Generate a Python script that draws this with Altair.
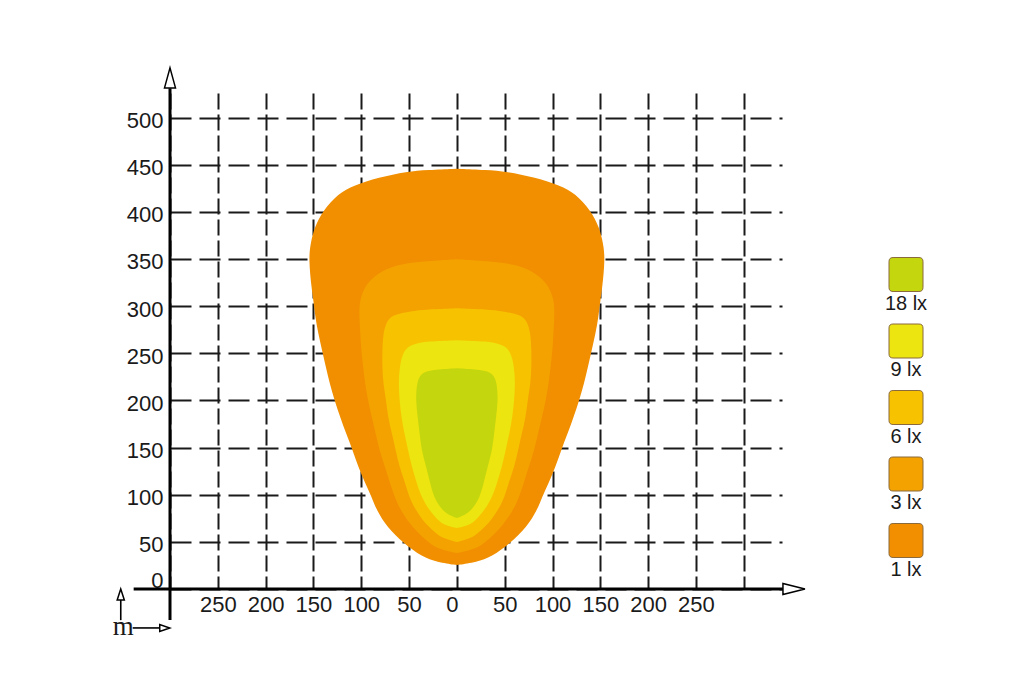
import altair as alt
import pandas as pd

# isolux curves: height (m) and half width (m) of each lit zone
LEVELS = ["18 lx", "9 lx", "6 lx", "3 lx", "1 lx"]
COLORS = ["#c4d60e", "#ece50f", "#f7c300", "#f4a200", "#f18f00"]

ONE_Y = [25.4, 28.6, 33.9, 48.7, 65.7, 83.7, 97.5, 112.3, 129.2, 147.2, 165.3, 182.2, 200.2, 218.2, 235.2,
         253.2, 271.2, 288.1, 306.1, 318.9, 350.6, 366.5, 383.5, 401.5, 419.5, 428.0, 436.4, 442.8, 444.4, 445.7]
ONE_W = [0, 21, 36, 56, 73, 84, 89, 96, 103, 109, 116, 122, 128, 133, 137,
         141, 145, 148, 150, 152, 155, 153, 149, 140, 124, 108, 82, 52, 31, 0]

THREE_Y = [38.1, 42.4, 48.7, 65.7, 83.7, 97.5, 112.3, 129.2, 147.2, 165.3, 182.2, 200.2, 218.2, 235.2,
           253.2, 271.2, 288.1, 306.1, 324.1, 337.9, 345.3, 348.0, 349.6]
THREE_W = [0, 19, 29, 47, 59, 65, 70, 75, 81, 85, 89, 93, 96, 98, 100, 101, 102, 102, 95, 79, 58, 26, 0]

SIX_Y = [49.8, 54.0, 58.3, 65.7, 73.1, 83.7, 97.5, 112.3, 129.2, 147.2, 165.3, 182.2, 200.2, 218.2,
         235.2, 253.2, 271.2, 281.8, 288.1, 291.3, 294.5, 296.6, 297.7]
SIX_W = [0, 15, 21, 29, 36, 43, 50, 54, 60, 64, 68, 72, 74, 77, 78, 78, 77, 74, 70, 63, 49, 31, 0]

NINE_Y = [64.6, 67.8, 73.1, 83.7, 97.5, 112.3, 129.2, 147.2, 165.3, 182.2, 200.2, 218.2, 235.2, 253.2,
          259.5, 262.7, 263.8]
NINE_W = [0, 13, 20, 29, 37, 42, 47, 51, 55, 58, 60, 61, 60, 56, 47, 31, 0]

EIGHTEEN_Y = [75.2, 78.4, 82.6, 89.0, 97.5, 112.3, 129.2, 147.2, 165.3, 182.2, 200.2, 218.2, 228.8,
              232.5, 234.1]
EIGHTEEN_W = [0, 8, 14, 19, 24, 28, 32, 37, 39, 41, 43, 42, 38, 26, 0]

X_TICKS = [-300, -250, -200, -150, -100, -50, 0, 50, 100, 150, 200, 250, 300]
Y_TICKS = [0, 50, 100, 150, 200, 250, 300, 350, 400, 450, 500]

FONT = "Liberation Sans"
INK = "#1a1a1a"

xs = alt.Scale(domain=[-300, 340], nice=False, zero=False)
ys = alt.Scale(domain=[0, 526], nice=False, zero=False)
col = alt.Scale(domain=LEVELS, range=COLORS)

x_axis = alt.Axis(values=X_TICKS, title=None, domain=False, ticks=False, grid=True,
                  gridDash=[16, 5], gridColor=INK, gridWidth=2,
                  labelExpr="abs(datum.value) == 300 ? '' : '' + abs(datum.value)",
                  labelFont=FONT, labelFontSize=22, labelColor=INK, labelPadding=5,
                  labelFlush=False, labelOverlap=False,
                  labelOffset={"condition": {"test": "datum.value == 0", "value": -5}, "value": 0})
y_axis = alt.Axis(values=Y_TICKS, title=None, domain=False, ticks=False, grid=True,
                  gridDash=[21, 8], gridColor=INK, gridWidth=2,
                  labelFont=FONT, labelFontSize=22, labelColor=INK, labelPadding=7,
                  labelFlush=False, labelOverlap=False,
                  labelOffset={"condition": {"test": "datum.value == 0", "value": -9}, "value": 3})

X = alt.X("x:Q", scale=xs, axis=x_axis)
Y = alt.Y("y:Q", scale=ys, axis=y_axis)


def contour(level, ys_, ws_):
    df = pd.DataFrame({"y": ys_, "x": [-w for w in ws_], "xr": ws_, "level": level})
    return alt.Chart(df).mark_area(orient="horizontal", interpolate="basis").encode(
        x=X, x2="xr:Q", y=Y,
        color=alt.Color("level:N", scale=col, legend=None),
    )


shapes = [
    contour("1 lx", ONE_Y, ONE_W),
    contour("3 lx", THREE_Y, THREE_W),
    contour("6 lx", SIX_Y, SIX_W),
    contour("9 lx", NINE_Y, NINE_W),
    contour("18 lx", EIGHTEEN_Y, EIGHTEEN_W),
]

# axis lines with open arrow heads, drawn by hand so they can run past the grid
lines = pd.DataFrame({
    "x": [-300, -338, -351.5, -339],
    "x2": [-300, 341, -351.5, -310],
    "y": [-33, 0, -33, -41.3],
    "y2": [531, 0, -11.5, -41.3],
    "w": [3, 3, 1.6, 1.6],
})
axis_lines = alt.Chart(lines).mark_rule(color="black").encode(
    x=X, x2="x2:Q", y=Y, y2="y2:Q",
    strokeWidth=alt.StrokeWidth("w:Q", scale=None),
)

heads = pd.DataFrame({
    "x": [-300, 352.5, -351.5, -305.5],
    "y": [542, 0, -5.8, -41.3],
    "shape": ["M0,-1L0.55,1L-0.55,1Z", "M1,0L-1,0.5L-1,-0.5Z",
              "M0,-1L0.65,1L-0.65,1Z", "M1,0L-1,0.7L-1,-0.7Z"],
    "size": [400, 484, 121, 100],
})
arrow_heads = alt.Chart(heads).mark_point(filled=True, fill="white", stroke="black", strokeWidth=1.5,
                                          opacity=1).encode(
    x=X, y=Y,
    shape=alt.Shape("shape:N", scale=None),
    size=alt.Size("size:Q", scale=None),
)

unit = alt.Chart(pd.DataFrame({"x": [-349], "y": [-48.8], "t": ["m"]})).mark_text(
    font="Liberation Serif", fontSize=27, baseline="alphabetic", color=INK
).encode(x=X, y=Y, text="t:N")

main = alt.layer(*shapes, axis_lines, arrow_heads, unit)

# legend: rounded swatches with the label underneath
ROUND_SQUARE = ("M-0.76,-1H0.76Q1,-1 1,-0.76V0.76Q1,1 0.76,1H-0.76Q-1,1 -1,0.76"
                "V-0.76Q-1,-1 -0.76,-1Z")
legend_df = pd.DataFrame({"level": LEVELS})
leg_y = alt.Y("level:N", axis=None,
              scale=alt.Scale(type="point", domain=LEVELS, range=[181.5, 447.5], padding=0))
swatches = alt.Chart(legend_df).mark_point(shape=ROUND_SQUARE, size=1156, filled=True, opacity=1,
                                           stroke="#8a6a3c", strokeWidth=1).encode(
    x=alt.value(736), y=leg_y,
    fill=alt.Fill("level:N", scale=col, legend=None),
)
swatch_text = alt.Chart(legend_df).mark_text(dy=29, font=FONT, fontSize=20, color=INK).encode(
    x=alt.value(736), y=leg_y, text="level:N",
)
legend = alt.layer(swatches, swatch_text)

chart = alt.layer(main, legend).resolve_scale(y="independent").properties(
    width=612, height=496,
    autosize=alt.AutoSizeParams(type="none"),
    padding={"left": 162, "top": 85, "right": 220, "bottom": 60},
    background="white",
).configure_view(stroke=None)

chart.save("out.html", embed_options={"renderer": "svg", "actions": False})
